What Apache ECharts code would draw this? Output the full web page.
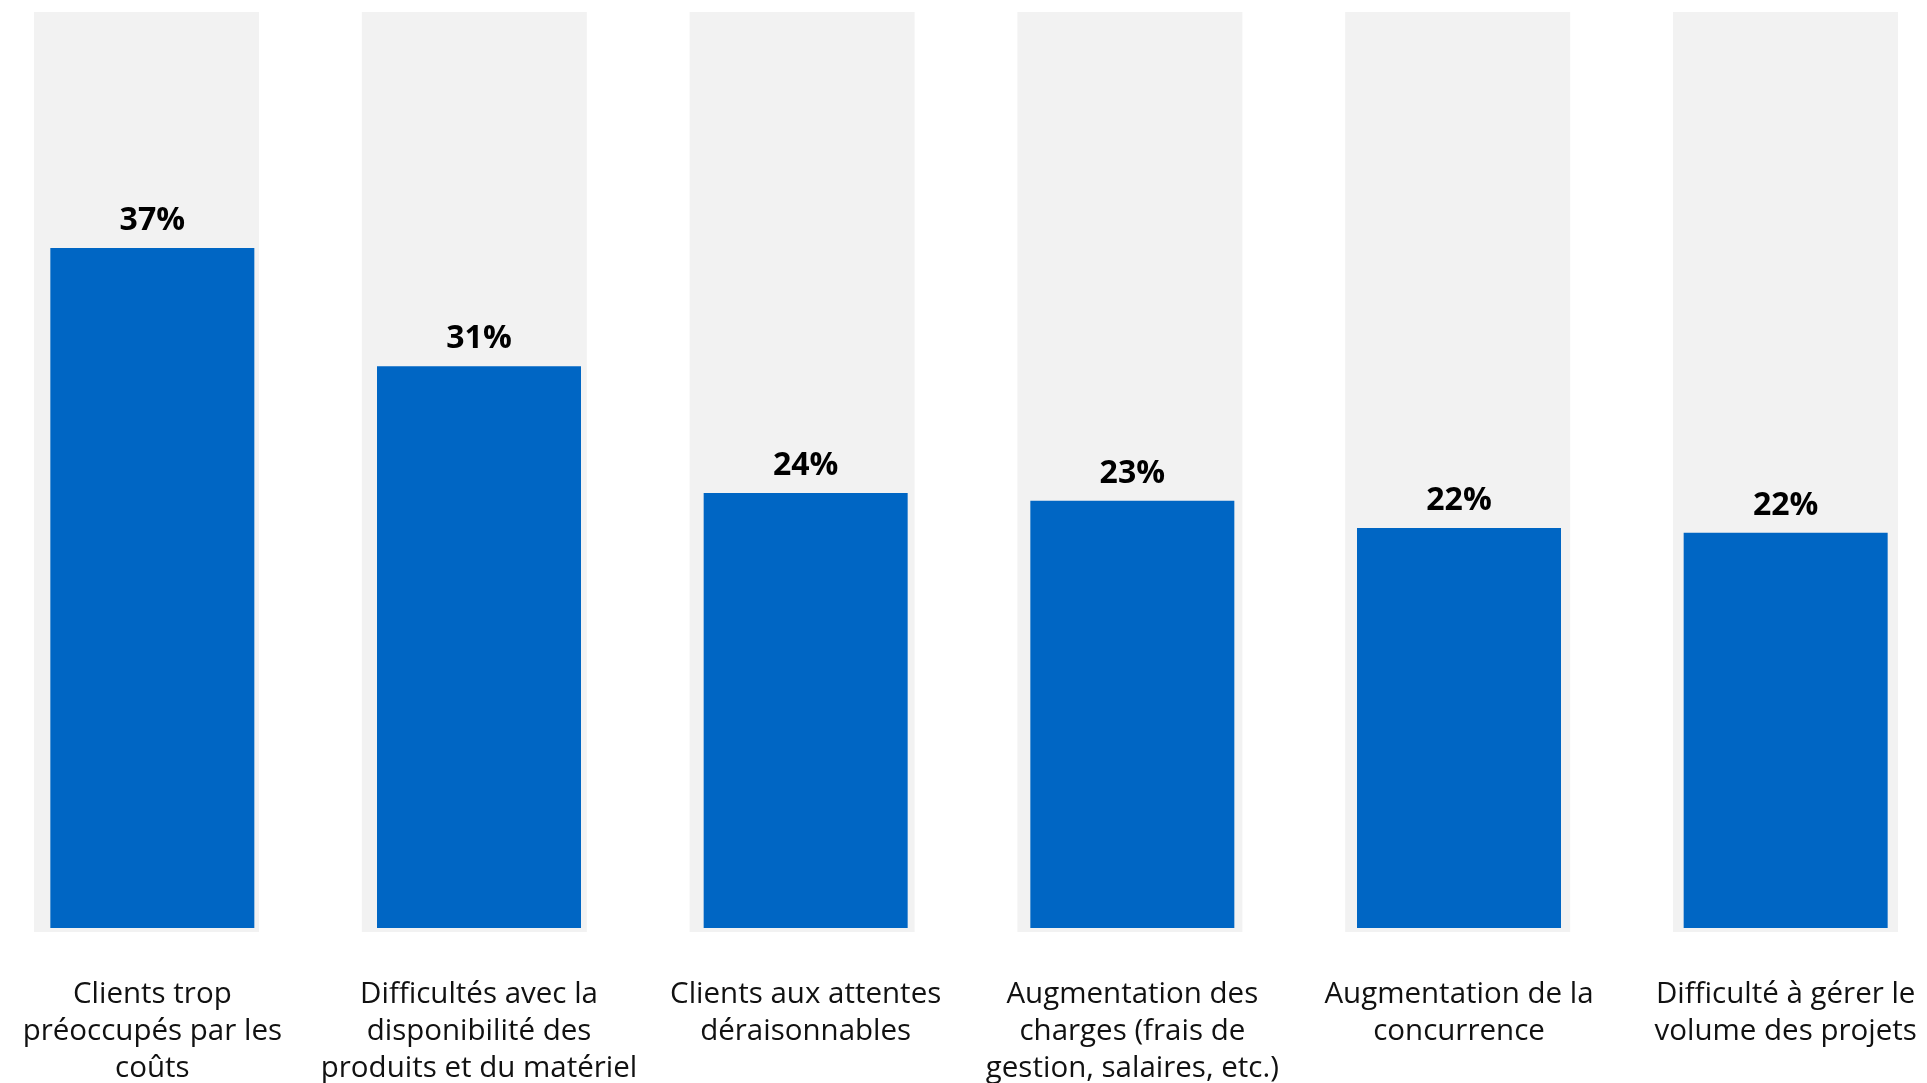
<!DOCTYPE html>
<html>
<head>
<meta charset="utf-8">
<script src="https://cdn.jsdelivr.net/npm/echarts@6/dist/echarts.min.js"></script>
<style>
html,body{margin:0;padding:0;background:#fff;}
#chart{width:1927px;height:1083px;}
</style>
</head>
<body>
<div id="chart"></div>
<script>
const categories = [
  "Clients trop\npréoccupés par les\ncoûts",
  "Difficultés avec la\ndisponibilité des\nproduits et du matériel",
  "Clients aux attentes\ndéraisonnables",
  "Augmentation des\ncharges (frais de\ngestion, salaires, etc.)",
  "Augmentation de la\nconcurrence",
  "Difficulté à gérer le\nvolume des projets"
];
const values = [37.16, 30.69, 23.77, 23.35, 21.86, 21.6];
const backgroundValues = [50, 50, 50, 50, 50, 50];
const axisMax = 50;

const chart = echarts.init(document.getElementById('chart'));
const font = '"Open Sans", Lato, sans-serif';
chart.setOption({
  animation: false,
  backgroundColor: '#ffffff',
  grid: [
    { left: -17.4, right: -22.4, top: 12, bottom: 151, outerBoundsMode: 'none', containLabel: false },
    { left: -11, right: -22, top: 13, bottom: 155, outerBoundsMode: 'none', containLabel: false }
  ],
  xAxis: [
    { type: 'category', gridIndex: 0, data: categories, axisLine: {show:false}, axisTick: {show:false}, axisLabel: {show:false} },
    { type: 'category', gridIndex: 1, data: categories, axisLine: {show:false}, axisTick: {show:false},
      axisLabel: { show: true, interval: 0, margin: 48, color: '#111111', fontFamily: font, fontSize: 29.5, lineHeight: 37, align: 'center' } }
  ],
  yAxis: [
    { type: 'value', gridIndex: 0, min: 0, max: axisMax, show: false, splitLine: {show:false} },
    { type: 'value', gridIndex: 1, min: 0, max: axisMax, show: false, splitLine: {show:false} }
  ],
  series: [
    { type: 'bar', xAxisIndex: 0, yAxisIndex: 0, data: backgroundValues, barWidth: 225, z: 1,
      itemStyle: { color: '#f2f2f2' }, silent: true },
    { type: 'bar', xAxisIndex: 1, yAxisIndex: 1, data: values, barWidth: 204, z: 3,
      itemStyle: { color: '#0066c4' },
      label: { show: true, position: 'top', distance: 11, color: '#000000', fontFamily: font, fontSize: 32, fontWeight: 'bold',
        formatter: p => Math.round(p.value) + '%' } }
  ]
});
</script>
</body>
</html>
